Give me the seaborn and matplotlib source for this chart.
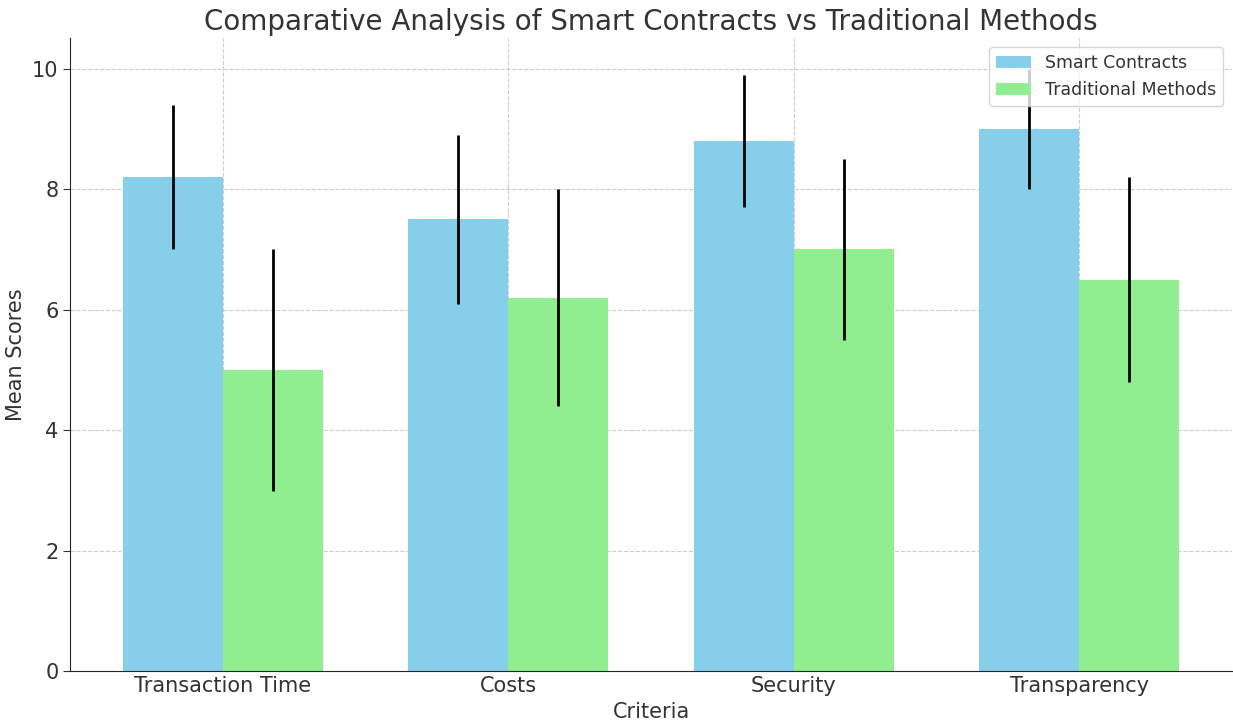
import numpy as np
import pandas as pd
import matplotlib.pyplot as plt
import seaborn as sns

criteria = ["Transaction Time", "Costs", "Security", "Transparency"]
smart_means = [8.2, 7.5, 8.8, 9.0]
smart_err = [1.2, 1.4, 1.1, 1.0]
trad_means = [5.0, 6.2, 7.0, 6.5]
trad_err = [2.0, 1.8, 1.5, 1.7]
methods = ["Smart Contracts", "Traditional Methods"]
colors = ["skyblue", "lightgreen"]

df = pd.DataFrame({
    "Criteria": criteria * 2,
    "Method": [methods[0]] * 4 + [methods[1]] * 4,
    "Mean": smart_means + trad_means,
    "Err": smart_err + trad_err,
})

sns.set_style("ticks")
plt.rcParams["text.color"] = "#333333"
plt.rcParams["axes.labelcolor"] = "#333333"

fig, ax = plt.subplots(figsize=(12.33, 7.25), dpi=100)
sns.barplot(data=df, x="Criteria", y="Mean", hue="Method", palette=colors,
            width=0.7, saturation=1, linewidth=0, errorbar=None, ax=ax)

# error bars at the centre of each bar
w = 0.35
x = np.arange(len(criteria))
ax.errorbar(x - w / 2, smart_means, yerr=smart_err, fmt="none", ecolor="black", elinewidth=2)
ax.errorbar(x + w / 2, trad_means, yerr=trad_err, fmt="none", ecolor="black", elinewidth=2)

ax.set_xlim(-0.535, 3.535)
ax.set_ylim(0, 10.5)
ax.grid(True, linestyle="--", color="#cccccc", linewidth=0.8)
ax.set_axisbelow(True)
sns.despine(ax=ax)
ax.tick_params(labelsize=15, colors="#333333", length=5)
ax.tick_params(axis="x", length=0)
ax.set_xlabel("Criteria", fontsize=15)
ax.set_ylabel("Mean Scores", fontsize=15)
ax.set_title("Comparative Analysis of Smart Contracts vs Traditional Methods", fontsize=20)
ax.legend(loc="upper right", fontsize=12.5, title=None)

fig.subplots_adjust(left=0.057, right=0.999, top=0.947, bottom=0.074)
fig.savefig("out.png")
